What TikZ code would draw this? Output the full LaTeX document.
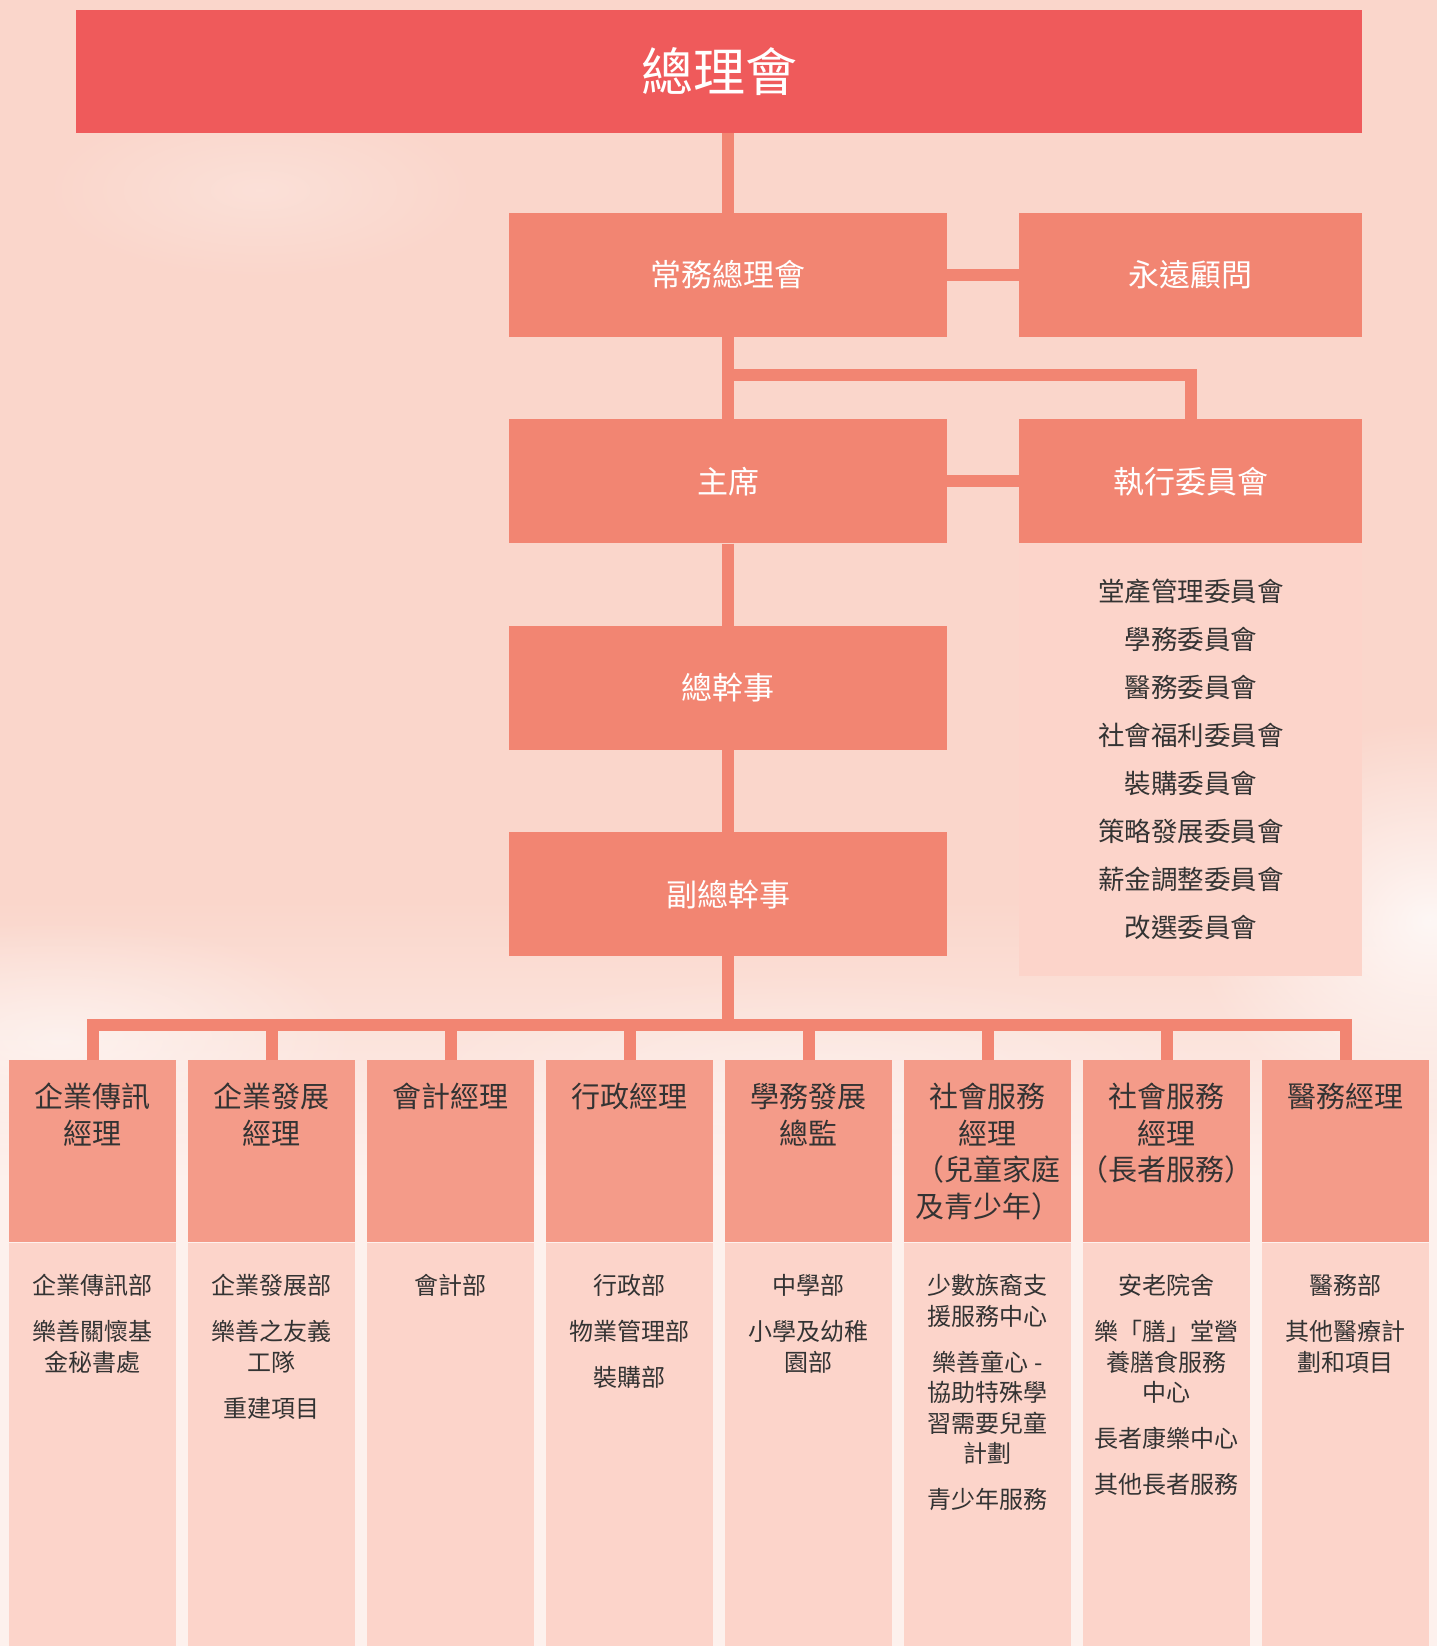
\documentclass[tikz,border=0pt]{standalone}
\usepackage{fontspec}
\setmainfont{Noto Sans CJK TC}
\usepackage{xcolor}
\usepackage{tikz}
\usetikzlibrary{positioning, fadings}
\definecolor{bgpink}{HTML}{FAD6CB}
\definecolor{bglight}{HTML}{FDF1ED}
\definecolor{councilred}{HTML}{EF5A5B}
\definecolor{boxsalmon}{HTML}{F28572}
\definecolor{headsalmon}{HTML}{F49B89}
\definecolor{panelpink}{HTML}{FCD4CA}
\definecolor{inkgrey}{HTML}{333333}
\tikzfading[name=softblob, inner color=transparent!0, outer color=transparent!100]
\tikzstyle{councilbox} = [rectangle, fill=councilred, text=white, minimum width=1286pt, minimum height=123pt, inner sep=0pt, font=\fontsize{52}{60}\selectfont]
\tikzstyle{officebox} = [rectangle, fill=boxsalmon, text=white, minimum width=438pt, minimum height=124pt, inner sep=0pt, font=\fontsize{31}{36}\selectfont]
\tikzstyle{sideoffice} = [officebox, minimum width=343pt]
\tikzstyle{committeebox} = [rectangle, fill=panelpink, text=inkgrey, minimum width=343pt, minimum height=432pt, inner sep=0pt, align=center, font=\fontsize{26.5}{48}\selectfont]
\tikzstyle{mgrbox} = [rectangle, fill=headsalmon, minimum width=167pt, minimum height=182pt, inner sep=0pt, anchor=north]
\tikzstyle{mgrtext} = [text=inkgrey, align=center, anchor=north, inner sep=0pt, font=\fontsize{29}{36.5}\selectfont]
\tikzstyle{deptbox} = [rectangle, fill=panelpink, minimum width=167pt, minimum height=404pt, inner sep=0pt, anchor=north]
\tikzstyle{depttext} = [text=inkgrey, align=center, anchor=north, inner sep=0pt, font=\fontsize{24}{30.5}\selectfont]
\tikzstyle{link} = [draw=boxsalmon, line width=12pt]
\tikzstyle{cloud} = [fill=white, path fading=softblob]

\begin{document}
\begin{tikzpicture}[x=1pt, y=-1pt, node distance=82pt and 72pt]
\useasboundingbox (0,0) rectangle (1437,1646);
\fill[bgpink] (0,0) rectangle (1437,1646);
% clouds in the background
\begin{scope}
\clip (0,0) rectangle (1437,1646);
\shade[top color=bgpink, bottom color=bglight] (0,900) rectangle (1437,1180);
\fill[bglight] (0,1180) rectangle (1437,1646);
\fill[cloud, fill opacity=0.8] (1430,920) ellipse (240 and 200);
\fill[cloud, fill opacity=0.5] (60,1040) ellipse (300 and 120);
\fill[cloud, fill opacity=0.25] (260,190) ellipse (220 and 90);
\fill[cloud, fill opacity=0.3] (820,1080) ellipse (420 and 110);
\end{scope}

\node[councilbox] (council) at (719,71.5) {總理會};

\node[officebox] (standing) at (728,275) {常務總理會};
\node[sideoffice, right=of standing] (advisor) {永遠顧問};
\node[officebox, below=of standing] (chair) {主席};
\node[sideoffice, right=of chair] (exec) {執行委員會};
\node[committeebox, below=0pt of exec] (committees) {堂產管理委員會\\學務委員會\\醫務委員會\\社會福利委員會\\裝購委員會\\策略發展委員會\\薪金調整委員會\\改選委員會};
\node[officebox, below=of chair] (secgen) {總幹事};
\node[officebox, below=of secgen] (deputy) {副總幹事};

\coordinate (bus) at (deputy.south |- 0,1025);

% managers and their departments
\foreach \i/\hd/\bd in {
  1/{企業傳訊\\經理}/{企業傳訊部\\[15.5pt]樂善關懷基\\金秘書處},
  2/{企業發展\\經理}/{企業發展部\\[15.5pt]樂善之友義\\工隊\\[15.5pt]重建項目},
  3/{會計經理}/{會計部},
  4/{行政經理}/{行政部\\[15.5pt]物業管理部\\[15.5pt]裝購部},
  5/{學務發展\\總監}/{中學部\\[15.5pt]小學及幼稚\\園部},
  6/{社會服務\\經理\\（兒童家庭\\及青少年）}/{少數族裔支\\援服務中心\\[15.5pt]樂善童心 -\\協助特殊學\\習需要兒童\\計劃\\[15.5pt]青少年服務},
  7/{社會服務\\經理\\（長者服務）}/{安老院舍\\[15.5pt]樂「膳」堂營\\養膳食服務\\中心\\[15.5pt]長者康樂中心\\[15.5pt]其他長者服務},
  8/{醫務經理}/{醫務部\\[15.5pt]其他醫療計\\劃和項目}}
{
  \node[mgrbox] (mgr\i) at ({92.5+179*(\i-1)},1060) {};
  \node[mgrtext] (mgrtxt\i) at ([yshift=-23pt]mgr\i.north) {\hd};
  \node[deptbox, below=0pt of mgr\i] (dept\i) {};
  \node[depttext] (depttxt\i) at ([yshift=-32pt]dept\i.north) {\bd};
}

\draw[link] (standing.north) -- (standing.north |- council.south);
\draw[link] (standing) -- (advisor);
\draw[link] (standing) -- (chair);
\draw[link] (standing.south |- 0,374.5) -| (exec.north);
\draw[link] (chair) -- (exec);
\draw[link] (chair) -- (secgen);
\draw[link] (secgen) -- (deputy);
\draw[link] (deputy) -- (bus);
\draw[link] (mgr1.north) |- (bus) -| (mgr8.north);
\foreach \i in {2,...,7}
  \draw[link] (mgr\i.north) -- (mgr\i.north |- bus);

\end{tikzpicture}
\end{document}
